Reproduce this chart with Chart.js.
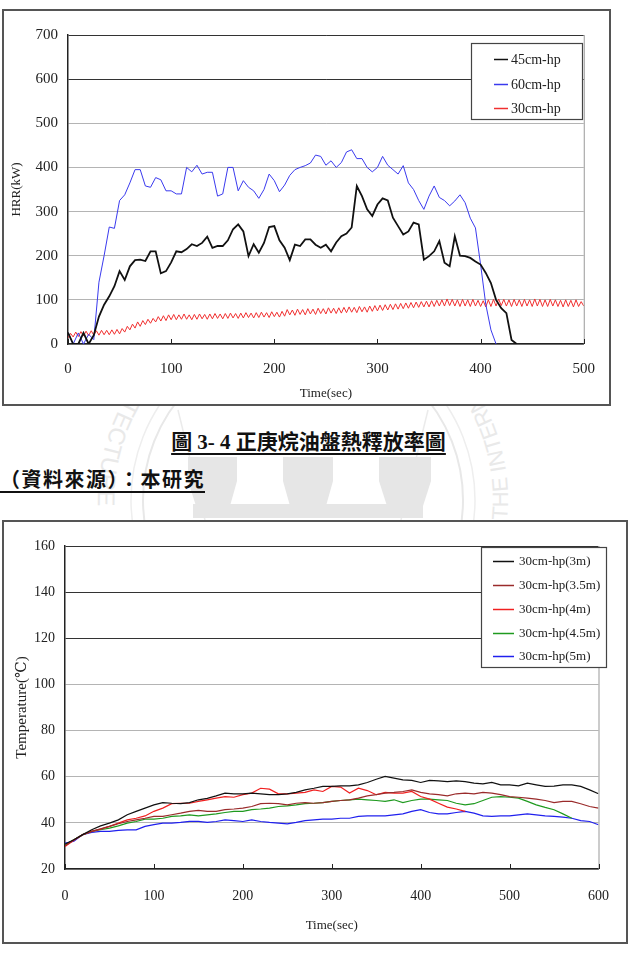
<!DOCTYPE html>
<html>
<head>
<meta charset="utf-8">
<script src="https://cdn.jsdelivr.net/npm/chart.js@4.4.0/dist/chart.umd.min.js"></script>
<style>
  html, body { margin: 0; padding: 0; background: #fff; }
  body { width: 629px; height: 954px; position: relative; overflow: hidden; }
  canvas { position: absolute; background: #fff; z-index: 1; }
  .frame { position: absolute; box-sizing: border-box; border: 2px solid #555; z-index: 2; pointer-events: none; }
  .cap { position: absolute; z-index: 3; font-weight: bold; color: #111; line-height: 24px;
         font-family: "Liberation Serif", "Noto Sans CJK TC", serif;
         text-decoration: underline; text-underline-offset: 4px; text-decoration-thickness: 1.5px; }
  #wm { position: absolute; left: 0; top: 0; z-index: 0; }
</style>
</head>
<body>

<svg id="wm" width="629" height="954">
  <defs>
    <path id="ring" d="M303,295 A205,205 0 1,0 303,705 A205,205 0 1,0 303,295"/>
  </defs>
  <circle cx="303" cy="500" r="160" fill="none" stroke="#e8e8e8" stroke-width="2"/>
  <circle cx="303" cy="500" r="172" fill="none" stroke="#eeeeee" stroke-width="1.5"/>
  <line x1="178" y1="410" x2="205" y2="520" stroke="#ebebeb" stroke-width="1.5"/>
  <line x1="428" y1="410" x2="401" y2="520" stroke="#ebebeb" stroke-width="1.5"/>
  <g fill="#e6e6e6">
    <rect x="188" y="457" width="49" height="24"/>
    <rect x="283" y="457" width="50" height="24"/>
    <rect x="379" y="457" width="52" height="24"/>
    <polygon points="188,481 237,481 230,506 196,506"/>
    <polygon points="283,481 333,481 326,506 290,506"/>
    <polygon points="379,481 431,481 423,506 387,506"/>
    <rect x="193" y="504" width="230" height="14"/>
  </g>
  <text font-family="Liberation Sans, sans-serif" font-size="24" fill="#e9e9e9">
    <textPath href="#ring" startOffset="140">ARCHITECTURE</textPath>
  </text>
  <text font-family="Liberation Sans, sans-serif" font-size="22" fill="#e9e9e9">
    <textPath href="#ring" startOffset="945">THE INTERNATIONAL</textPath>
  </text>
</svg>

<canvas id="hrrChart" width="609" height="397" style="left:2px;top:9px;"></canvas>
<div class="frame" style="left:2px;top:9px;width:609px;height:397px;"></div>

<div class="cap" style="left:0;width:617px;top:430px;text-align:center;font-size:21px;">圖 3- 4 正庚烷油盤熱釋放率圖</div>
<div class="cap" style="left:0;top:468px;font-size:20px;letter-spacing:1.5px;">（資料來源）：本研究</div>

<canvas id="tempChart" width="626" height="424" style="left:2px;top:520px;"></canvas>
<div class="frame" style="left:2px;top:520px;width:626px;height:424px;"></div>

<script>
const FONT = '"Liberation Serif", "DejaVu Serif", "Noto Sans CJK TC", serif';

// ── HRR (kW) — black / blue every 5 s, red every 2.5 s ─────────
const HRR_STEP = 5;
const RED_STEP = 2.5;
const HRR_LABELS = ['45cm-hp', '60cm-hp', '30cm-hp'];

const hrr45 = [
  26, 0, 0, 25, 0, 20, 62, 89, 108, 131, 165, 145, 176, 190, 191, 188, 210, 210, 160, 165,
  185, 210, 208, 215, 226, 222, 229, 243, 218, 222, 222, 235, 260, 271, 255, 199, 226, 207, 229, 265,
  267, 235, 218, 190, 225, 222, 237, 237, 225, 218, 225, 210, 230, 244, 250, 264, 358, 335, 305, 290,
  316, 330, 325, 286, 267, 248, 255, 275, 271, 191, 199, 210, 233, 184, 176, 244, 200, 199, 195, 187,
  180, 161, 138, 100, 81, 70, 9, 0,
];

const hrr60 = [
  26, 0, 25, 0, 22, 10, 140, 200, 265, 262, 325, 338, 365, 395, 395, 358, 355, 377, 372, 347,
  347, 340, 340, 400, 390, 405, 385, 389, 389, 335, 340, 400, 400, 347, 370, 355, 347, 330, 350, 385,
  370, 345, 360, 382, 395, 400, 404, 410, 428, 425, 405, 415, 400, 411, 435, 440, 420, 420, 400, 390,
  400, 425, 405, 395, 385, 404, 365, 350, 325, 305, 335, 358, 332, 325, 313, 324, 338, 320, 285, 263,
  180, 90, 32, 0,
];

const hrr30 = [
  14, 24, 16, 27, 17, 28, 18, 29, 19, 30, 20, 30, 20, 31, 21, 31, 21, 32, 22, 33,
  23, 35, 27, 40, 32, 45, 36, 50, 40, 53, 44, 56, 47, 58, 50, 62, 52, 64, 53, 66,
  55, 67, 55, 66, 56, 68, 56, 66, 55, 67, 56, 68, 57, 67, 56, 68, 57, 69, 58, 68,
  57, 69, 58, 70, 59, 69, 58, 70, 59, 71, 60, 70, 59, 71, 60, 72, 61, 71, 60, 73,
  62, 72, 61, 74, 63, 78, 66, 77, 65, 79, 67, 78, 66, 80, 68, 79, 67, 81, 69, 80,
  68, 82, 70, 81, 69, 82, 70, 83, 71, 84, 72, 83, 71, 85, 73, 84, 72, 86, 74, 87,
  75, 88, 76, 89, 77, 90, 78, 91, 79, 92, 80, 93, 81, 94, 82, 95, 83, 96, 84, 97,
  84, 98, 85, 99, 86, 100, 86, 102, 87, 101, 86, 100, 85, 101, 86, 100, 85, 101, 86, 99,
  85, 98, 84, 100, 85, 101, 86, 102, 87, 101, 86, 100, 85, 101, 86, 100, 85, 101, 86, 100,
  85, 102, 86, 101, 85, 100, 85, 101, 86, 100, 85, 99, 84, 100, 85, 99, 84, 100, 85, 96,
  86,
];

// ── Temperature (°C) — every 10 s ─────────────────────────────
const TEMP_STEP = 10;
const TEMP_LABELS = ['30cm-hp(3m)', '30cm-hp(3.5m)', '30cm-hp(4m)', '30cm-hp(4.5m)', '30cm-hp(5m)'];

const temp3m = [
  30.8, 32.7, 34.9, 37.0, 38.7, 39.9, 41.3, 43.5, 45.0, 46.4, 47.8, 48.8, 48.5, 48.3, 48.8, 50.0,
  50.6, 51.7, 52.9, 52.6, 52.6, 52.9, 52.6, 52.2, 52.2, 52.6, 53.2, 54.3, 55.0, 55.8, 55.8, 56.0,
  56.0, 56.5, 57.5, 58.9, 60.1, 59.4, 58.6, 58.4, 57.5, 58.4, 58.2, 57.9, 58.2, 57.9, 57.2, 56.9,
  57.5, 56.5, 56.5, 56.0, 57.2, 56.5, 55.8, 55.9, 56.5, 56.5, 55.8, 54.3, 52.6,
];
const temp35m = [
  30.1, 32.7, 34.9, 36.3, 37.4, 38.5, 39.6, 40.6, 41.3, 42.0, 42.8, 42.8, 43.5, 44.2, 45.0, 45.4,
  45.0, 45.0, 45.7, 46.0, 46.4, 47.1, 48.3, 48.5, 48.3, 47.8, 48.5, 48.8, 48.5, 48.8, 49.3, 49.7,
  50.0, 50.7, 51.7, 52.2, 52.9, 53.2, 53.6, 54.3, 53.2, 52.6, 52.2, 51.7, 52.6, 52.9, 52.6, 53.2,
  52.9, 52.2, 51.4, 51.1, 50.7, 50.3, 49.7, 48.8, 49.3, 49.3, 48.3, 47.1, 46.4,
];
const temp4m = [
  29.8, 32.5, 34.9, 36.3, 37.3, 38.5, 39.9, 41.3, 42.0, 43.0, 45.0, 46.4, 48.3, 48.5, 48.5, 49.3,
  50.0, 50.7, 51.4, 51.1, 52.2, 52.9, 55.0, 54.6, 52.6, 52.6, 52.9, 53.2, 54.3, 53.6, 55.8, 55.5,
  52.9, 55.0, 54.0, 52.2, 53.2, 52.9, 52.9, 53.6, 51.4, 50.3, 48.5, 46.8, 46.0, 45.0,
];
const temp45m = [
  30.5, 32.7, 34.9, 36.3, 37.0, 37.7, 38.7, 39.9, 40.6, 41.6, 41.6, 42.0, 42.8, 43.0, 43.5, 43.0,
  43.5, 43.9, 44.5, 45.0, 45.0, 45.7, 46.0, 46.4, 47.1, 47.4, 47.8, 48.3, 48.5, 48.8, 49.3, 49.7,
  50.0, 50.3, 50.0, 49.7, 49.3, 50.0, 48.8, 49.7, 50.3, 50.3, 50.0, 49.7, 48.5, 47.8, 48.3, 49.7,
  51.1, 51.4, 51.1, 50.7, 49.3, 47.8, 46.7, 45.7, 43.9, 42.0,
];
const temp5m = [
  31.2, 32.0, 34.9, 35.9, 36.3, 36.3, 36.7, 37.0, 37.0, 38.5, 39.2, 39.9, 39.9, 40.2, 40.6, 40.6,
  40.2, 40.6, 41.3, 41.0, 40.6, 41.3, 40.6, 40.2, 39.9, 39.6, 40.2, 41.0, 41.3, 41.6, 41.6, 42.0,
  42.0, 42.8, 43.0, 43.0, 43.0, 43.5, 43.9, 45.0, 45.7, 44.5, 43.9, 43.9, 44.5, 45.0, 44.2, 43.0,
  42.8, 43.0, 43.0, 43.5, 43.9, 43.5, 43.0, 42.8, 42.5, 42.0, 41.0, 40.6, 39.2,
];

// sample index -> {x: seconds, y: value}
function serie(step, vals) {
  return vals.map((v, i) => ({ x: i * step, y: v }));
}

// darker grid lines at the listed tick values, light grey elsewhere
function gridColor(darkVals) {
  return ctx => darkVals.includes(ctx.tick.value) ? '#333' : '#b4b4b4';
}

// ── Plugin: right frame line, inward x ticks, boxed legend ─────
const decor = {
  id: 'decor',
  afterDatasetsDraw(chart, args, o) {
    const { ctx, chartArea: a, scales: { x } } = chart;
    ctx.save();
    ctx.lineWidth = 1;
    ctx.strokeStyle = '#999';
    ctx.beginPath();
    ctx.moveTo(a.right + 0.5, a.top);
    ctx.lineTo(a.right + 0.5, a.bottom);
    ctx.stroke();

    ctx.strokeStyle = '#222';
    ctx.beginPath();
    x.ticks.forEach(t => {
      const px = Math.round(x.getPixelForValue(t.value)) + 0.5;
      ctx.moveTo(px, a.bottom);
      ctx.lineTo(px, a.bottom - 5);
    });
    ctx.stroke();

    // legend
    const L = o.box;
    ctx.fillStyle = '#fff';
    ctx.fillRect(L.x, L.y, L.w, L.h);
    ctx.strokeStyle = '#444';
    ctx.lineWidth = 1.2;
    ctx.strokeRect(L.x + 0.5, L.y + 0.5, L.w, L.h);
    ctx.font = o.font;
    ctx.textBaseline = 'middle';
    ctx.textAlign = 'left';
    chart.data.datasets.forEach((ds, i) => {
      const y = o.rows[i];
      ctx.strokeStyle = ds.borderColor;
      ctx.lineWidth = 1.5;
      ctx.beginPath();
      ctx.moveTo(o.line[0], y + 0.5);
      ctx.lineTo(o.line[1], y + 0.5);
      ctx.stroke();
      ctx.fillStyle = '#222';
      ctx.fillText(ds.label, o.textX, y + 1);
    });
    ctx.restore();
  },
};

function axisFont(size) { return { family: FONT, size: size }; }

// ── HRR chart ─────────────────────────────────────────────────
new Chart(document.getElementById('hrrChart'), {
  type: 'line',
  data: {
    datasets: [
      { label: HRR_LABELS[0], data: serie(HRR_STEP, hrr45), borderColor: '#111', borderWidth: 1.8 },
      { label: HRR_LABELS[1], data: serie(HRR_STEP, hrr60), borderColor: '#3a3aee', borderWidth: 1 },
      { label: HRR_LABELS[2], data: serie(RED_STEP, hrr30), borderColor: '#f03030', borderWidth: 1 },
    ],
  },
  options: {
    responsive: false, animation: false,
    layout: { padding: { top: 26, right: 20, left: 0, bottom: 0 } },
    elements: { point: { radius: 0 }, line: { tension: 0 } },
    plugins: {
      legend: { display: false }, tooltip: { enabled: false },
      decor: {
        box: { x: 469, y: 34, w: 111, h: 76 },
        rows: [50, 75, 99], line: [492, 506], textX: 509,
        font: '14px ' + FONT,
      },
    },
    scales: {
      x: {
        type: 'linear', min: 0, max: 500,
        afterFit: s => { s.height = 62; },
        ticks: { stepSize: 100, padding: 16, color: '#222', font: axisFont(15), maxRotation: 0 },
        grid: { display: false, drawTicks: false },
        border: { color: '#222', width: 1.5 },
        title: { display: true, text: 'Time(sec)', color: '#222', font: axisFont(13), padding: { top: 0, bottom: 5 } },
      },
      y: {
        min: 0, max: 700,
        afterFit: s => { s.width = 66; },
        ticks: { stepSize: 100, padding: 10, color: '#222', font: axisFont(15) },
        grid: { color: gridColor([600, 700]), drawTicks: false },
        border: { color: '#222', width: 1.5 },
        title: { display: true, text: 'HRR(kW)', color: '#222', font: axisFont(13), padding: { top: 7, bottom: 0 } },
      },
    },
  },
  plugins: [decor],
});

// ── Temperature chart ─────────────────────────────────────────
new Chart(document.getElementById('tempChart'), {
  type: 'line',
  data: {
    datasets: [
      { label: TEMP_LABELS[0], data: serie(TEMP_STEP, temp3m),  borderColor: '#111',    borderWidth: 1.2 },
      { label: TEMP_LABELS[1], data: serie(TEMP_STEP, temp35m), borderColor: '#9a2b2b', borderWidth: 1.2 },
      { label: TEMP_LABELS[2], data: serie(TEMP_STEP, temp4m),  borderColor: '#f02020', borderWidth: 1.2 },
      { label: TEMP_LABELS[3], data: serie(TEMP_STEP, temp45m), borderColor: '#1f9a1f', borderWidth: 1.2 },
      { label: TEMP_LABELS[4], data: serie(TEMP_STEP, temp5m),  borderColor: '#2020ee', borderWidth: 1.2 },
    ],
  },
  options: {
    responsive: false, animation: false,
    layout: { padding: { top: 26, right: 15, left: 0, bottom: 0 } },
    elements: { point: { radius: 0 }, line: { tension: 0 } },
    plugins: {
      legend: { display: false }, tooltip: { enabled: false },
      decor: {
        box: { x: 479, y: 27, w: 125, h: 120 },
        rows: [41, 65, 89, 113, 136], line: [491, 512], textX: 517,
        font: '13px ' + FONT,
      },
    },
    scales: {
      x: {
        type: 'linear', min: 0, max: 600,
        afterFit: s => { s.height = 75; },
        ticks: { stepSize: 100, padding: 19, color: '#222', font: axisFont(14), maxRotation: 0 },
        grid: { display: false, drawTicks: false },
        border: { color: '#222', width: 1.5 },
        title: { display: true, text: 'Time(sec)', color: '#222', font: axisFont(13), padding: { top: 0, bottom: 11 } },
      },
      y: {
        min: 20, max: 160,
        afterFit: s => { s.width = 63; },
        ticks: { stepSize: 20, padding: 10, color: '#222', font: axisFont(14) },
        grid: { color: gridColor([120, 140, 160]), drawTicks: false },
        border: { color: '#222', width: 1.5 },
        title: { display: true, text: 'Temperature(℃)', color: '#222', font: axisFont(15), padding: { top: 11, bottom: 0 } },
      },
    },
  },
  plugins: [decor],
});
</script>
</body>
</html>
